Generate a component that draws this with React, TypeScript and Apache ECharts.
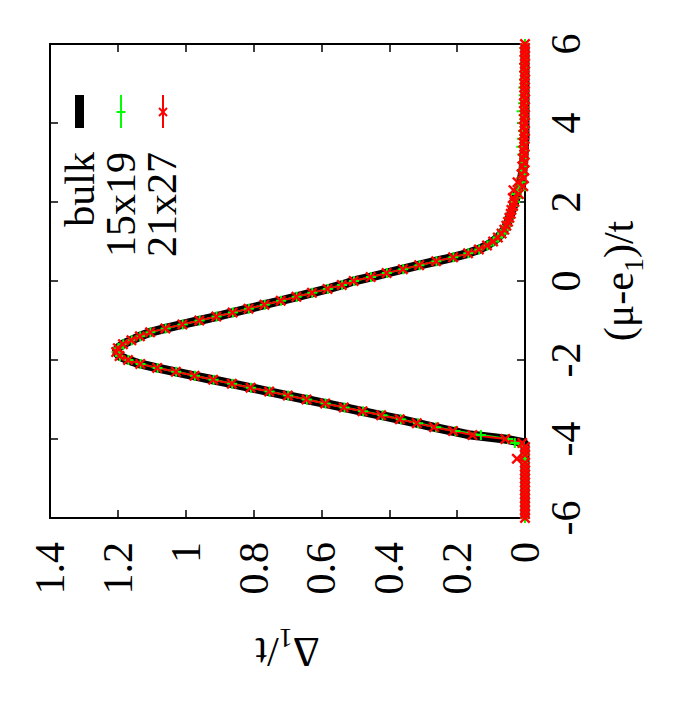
import React, { useEffect, useRef } from 'react';
import * as echarts from 'echarts';

// chemical potential grid (mu - e1)/t
const muGrid = [
  -6.0, -5.9, -5.8, -5.7, -5.6, -5.5, -5.4, -5.3, -5.2, -5.1,
  -5.0, -4.9, -4.8, -4.7, -4.6, -4.5, -4.4, -4.3, -4.2, -4.1,
  -4.0, -3.9, -3.8, -3.7, -3.6, -3.5, -3.4, -3.3, -3.2, -3.1,
  -3.0, -2.9, -2.8, -2.7, -2.6, -2.5, -2.4, -2.3, -2.2, -2.1,
  -2.0, -1.9, -1.8, -1.7, -1.6, -1.5, -1.4, -1.3, -1.2, -1.1,
  -1.0, -0.9, -0.8, -0.7, -0.6, -0.5, -0.4, -0.3, -0.2, -0.1,
  0.0, 0.1, 0.2, 0.3, 0.4, 0.5, 0.6, 0.7, 0.8, 0.9,
  1.0, 1.1, 1.2, 1.3, 1.4, 1.5, 1.6, 1.7, 1.8, 1.9,
  2.0, 2.1, 2.2, 2.3, 2.4, 2.5, 2.6, 2.7, 2.8, 2.9,
  3.0, 3.1, 3.2, 3.3, 3.4, 3.5, 3.6, 3.7, 3.8, 3.9,
  4.0, 4.1, 4.2, 4.3, 4.4, 4.5, 4.6, 4.7, 4.8, 4.9,
  5.0, 5.1, 5.2, 5.3, 5.4, 5.5, 5.6, 5.7, 5.8, 5.9,
  6.0,
];

// Delta_1/t, bulk
const bulkDelta = [
  0, 0, 0, 0, 0, 0, 0, 0, 0, 0,
  0, 0, 0, 0, 0, 0, 0, 0, 0, 0,
  0.06, 0.16, 0.215, 0.27, 0.32, 0.37, 0.425, 0.48, 0.535, 0.59,
  0.645, 0.7, 0.755, 0.81, 0.865, 0.92, 0.975, 1.03, 1.085, 1.135,
  1.17, 1.195, 1.205, 1.2, 1.185, 1.16, 1.135, 1.105, 1.06, 1.01,
  0.96, 0.91, 0.862, 0.815, 0.768, 0.72, 0.674, 0.628, 0.582, 0.54,
  0.505, 0.455, 0.408, 0.36, 0.312, 0.262, 0.212, 0.168, 0.136, 0.112,
  0.094, 0.08, 0.069, 0.061, 0.055, 0.05, 0.046, 0.042, 0.038, 0.034,
  0.03, 0.027, 0.024, 0.02, 0.016, 0.013, 0.01, 0.008, 0.006, 0.005,
  0.004, 0.003, 0.003, 0.002, 0.002, 0.001, 0, 0, 0, 0,
  0, 0, 0, 0, 0, 0, 0, 0, 0, 0,
  0, 0, 0, 0, 0, 0, 0, 0, 0, 0,
  0,
];

// Delta_1/t, 15x19 lattice
const delta15x19 = [
  0, 0, 0, 0, 0, 0, 0, 0, 0, 0,
  0, 0, 0, 0, 0, 0, 0, 0, 0.004, 0.03,
  0.05, 0.13, 0.205, 0.262, 0.315, 0.366, 0.42, 0.477, 0.532, 0.588,
  0.643, 0.698, 0.753, 0.808, 0.863, 0.918, 0.973, 1.028, 1.083, 1.133,
  1.169, 1.194, 1.204, 1.199, 1.184, 1.159, 1.134, 1.104, 1.059, 1.009,
  0.959, 0.909, 0.861, 0.814, 0.767, 0.719, 0.673, 0.627, 0.581, 0.539,
  0.504, 0.454, 0.407, 0.359, 0.311, 0.261, 0.211, 0.167, 0.135, 0.111,
  0.093, 0.079, 0.068, 0.06, 0.054, 0.049, 0.045, 0.041, 0.037, 0.033,
  0.029, 0.022, 0.03, 0.012, 0.02, 0.008, 0.012, 0.004, 0.01, 0.003,
  0.006, 0.002, 0.008, 0.001, 0.011, 0.003, 0.009, 0.002, 0.006, 0.001,
  0.008, 0.002, 0.004, 0.01, 0.001, 0.006, 0.002, 0.004, 0.001, 0.005,
  0.001, 0.003, 0, 0.002, 0, 0.003, 0, 0.001, 0, 0.002,
  0,
];

// Delta_1/t, 21x27 lattice
const delta21x27 = [
  0, 0, 0, 0, 0, 0, 0, 0, 0, 0,
  0, 0, 0, 0, 0, 0.024, 0, 0, 0, 0.008,
  0.058, 0.155, 0.212, 0.268, 0.319, 0.369, 0.424, 0.479, 0.534, 0.589,
  0.644, 0.699, 0.754, 0.809, 0.864, 0.919, 0.974, 1.029, 1.084, 1.134,
  1.17, 1.195, 1.205, 1.2, 1.185, 1.16, 1.135, 1.105, 1.06, 1.01,
  0.96, 0.91, 0.862, 0.815, 0.768, 0.72, 0.674, 0.628, 0.582, 0.54,
  0.505, 0.455, 0.408, 0.36, 0.312, 0.262, 0.212, 0.168, 0.136, 0.112,
  0.094, 0.08, 0.069, 0.061, 0.055, 0.05, 0.046, 0.042, 0.04, 0.035,
  0.031, 0.036, 0.018, 0.034, 0.005, 0.022, 0.003, 0.01, 0.002, 0.008,
  0.001, 0.006, 0.002, 0.004, 0.001, 0.005, 0.002, 0.003, 0, 0.004,
  0.001, 0.003, 0, 0.002, 0.001, 0.003, 0, 0.002, 0, 0.001,
  0.002, 0, 0.001, 0, 0.002, 0, 0.001, 0, 0.001, 0,
  0,
];

const seriesNames = ['bulk', '15x19', '21x27'];
const seriesColors = ['#000000', '#00ff00', '#ff0000'];

const FONT = 'Liberation Serif';
const FS = 42;
const PLUS = 'path://M4,0H6V10H4Z M0,4H10V6H0Z';
const CROSS = 'path://M0,1.5L1.5,0L5,3.5L8.5,0L10,1.5L6.5,5L10,8.5L8.5,10L5,6.5L1.5,10L0,8.5L3.5,5Z';

const pairs = (vals: number[]) => vals.map((d, i) => [d, muGrid[i]]);

export default function App() {
  const ref = useRef<HTMLDivElement>(null);
  useEffect(() => {
    if (!ref.current) return;
    const chart = echarts.init(ref.current, undefined, { renderer: 'svg' });
    const tick = { show: true, inside: true, length: 8, lineStyle: { color: '#000', width: 1.5 } };
    const deltaAxisBase = {
      type: 'value' as const, min: 0, max: 1.4, interval: 0.2, inverse: true,
      axisLine: { show: false, onZero: false }, splitLine: { show: false }, axisTick: tick,
    };
    const muAxisBase = {
      type: 'value' as const, min: -6, max: 6, interval: 2,
      axisLine: { show: false, onZero: false }, splitLine: { show: false }, axisTick: tick,
    };
    const labelStyle = { fontFamily: FONT, fontSize: FS, color: '#000' };
    const subRich = { s: { fontFamily: FONT, fontSize: 28, lineHeight: 28, verticalAlign: 'bottom', color: '#000' } };
    chart.setOption({
      animation: false,
      backgroundColor: '#fff',
      textStyle: { fontFamily: FONT },
      grid: { left: 50, right: 175, top: 44, bottom: 192, show: true, borderColor: '#000', borderWidth: 2, backgroundColor: 'transparent' },
      xAxis: [
        {
          ...deltaAxisBase, position: 'bottom',
          axisLabel: { ...labelStyle, rotate: 90, margin: 24 },
          name: 'Δ{s|1}/t', nameLocation: 'middle', nameRotate: 180, nameGap: 106, nameMoveOverlap: false,
          nameTextStyle: { ...labelStyle, lineHeight: 56, rich: subRich },
        },
        { ...deltaAxisBase, position: 'top', axisLabel: { show: false } },
      ],
      yAxis: [
        {
          ...muAxisBase, position: 'right',
          axisLabel: { ...labelStyle, rotate: 90, margin: 20 },
          name: '(μ-e{s|1})/t', nameLocation: 'middle', nameRotate: 90, nameGap: 66, nameMoveOverlap: false,
          nameTextStyle: { ...labelStyle, lineHeight: 56, rich: subRich },
        },
        { ...muAxisBase, position: 'left', axisLabel: { show: false } },
      ],
      series: [
        {
          name: seriesNames[0], type: 'line', data: pairs(bulkDelta), xAxisIndex: 0, yAxisIndex: 0,
          showSymbol: false, clip: false, lineStyle: { color: seriesColors[0], width: 9 }, itemStyle: { color: seriesColors[0] },
        },
        {
          name: seriesNames[1], type: 'line', data: pairs(delta15x19), xAxisIndex: 0, yAxisIndex: 0,
          symbol: PLUS, symbolSize: 10, showSymbol: true, clip: false,
          lineStyle: { color: seriesColors[1], width: 2 }, itemStyle: { color: seriesColors[1], borderWidth: 0 },
        },
        {
          name: seriesNames[2], type: 'line', data: pairs(delta21x27), xAxisIndex: 0, yAxisIndex: 0,
          symbol: CROSS, symbolSize: 11, showSymbol: true, clip: false,
          lineStyle: { color: seriesColors[2], width: 2 }, itemStyle: { color: seriesColors[2], borderWidth: 0 },
        },
      ],
      graphic: [
        { type: 'rect', shape: { x: 75, y: 95, width: 9, height: 33 }, style: { fill: seriesColors[0] } },
        { type: 'line', shape: { x1: 121, y1: 95, x2: 121, y2: 128 }, style: { stroke: seriesColors[1], lineWidth: 2 } },
        { type: 'line', shape: { x1: 116.5, y1: 112, x2: 125.5, y2: 112 }, style: { stroke: seriesColors[1], lineWidth: 2 } },
        { type: 'line', shape: { x1: 163, y1: 95, x2: 163, y2: 128 }, style: { stroke: seriesColors[2], lineWidth: 2 } },
        { type: 'line', shape: { x1: 159, y1: 108, x2: 167, y2: 116 }, style: { stroke: seriesColors[2], lineWidth: 2 } },
        { type: 'line', shape: { x1: 159, y1: 116, x2: 167, y2: 108 }, style: { stroke: seriesColors[2], lineWidth: 2 } },
        ...seriesNames.map((n, i) => ({
          type: 'text', x: [79.5, 120.5, 162][i], y: 152, rotation: Math.PI / 2,
          style: { text: n, fontFamily: FONT, fontSize: FS, fill: '#000', align: 'right', textAlign: 'right', verticalAlign: 'middle', textVerticalAlign: 'middle' },
        })),
      ],
    });
    return () => chart.dispose();
  }, []);
  return <div ref={ref} style={{ position: 'fixed', left: 0, top: 0, width: 700, height: 710 }} />;
}
